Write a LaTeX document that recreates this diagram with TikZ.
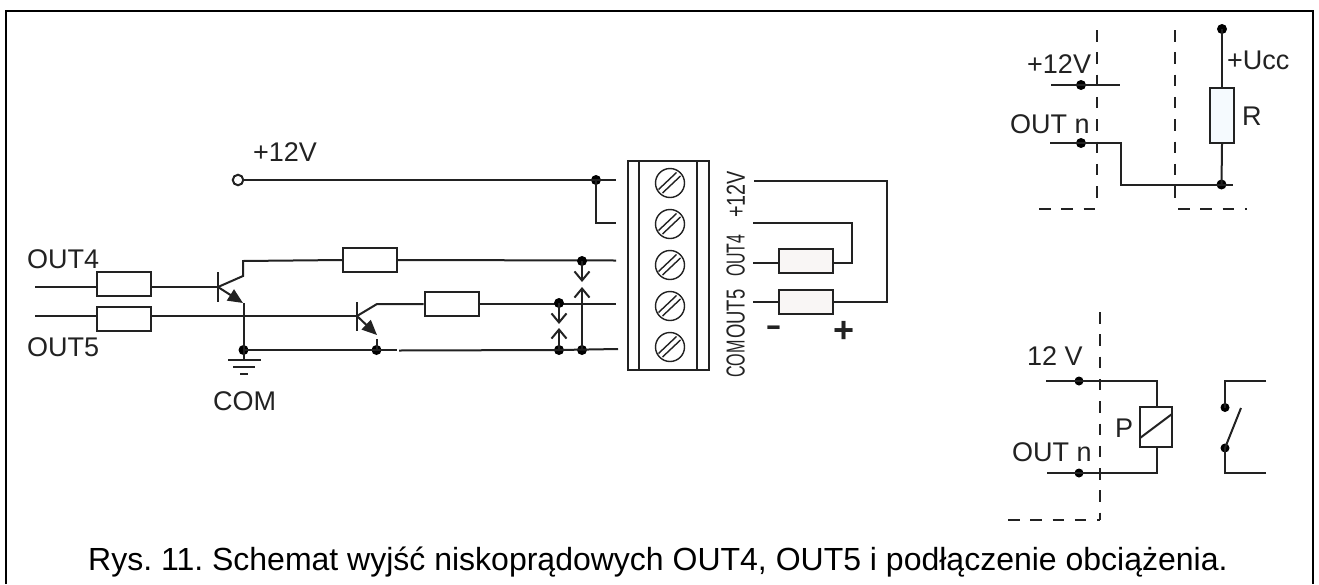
\documentclass[tikz,border=0pt]{standalone}
\usepackage{fontspec}
\setmainfont{Liberation Sans}
\usetikzlibrary{arrows.meta}
\definecolor{ink}{HTML}{222222}
\definecolor{loadfill}{HTML}{F9F6F5}
\definecolor{rfill}{HTML}{F5FAFE}
\tikzset{
  wire/.style={draw=ink,line width=2pt},
  thinwire/.style={draw=ink,line width=1.4pt},
  res/.style={draw=ink,line width=2pt,rectangle,minimum width=54pt,minimum height=24pt,inner sep=0pt,fill=white},
  loadbox/.style={res,fill=loadfill},
  dot/.style={circle,fill=black,inner sep=0pt,minimum size=10pt},
  lab/.style={anchor=base west,inner sep=0pt,text=ink,font=\fontsize{27}{27}\selectfont},
  sidelab/.style={anchor=south west,inner sep=0pt,text=ink,rotate=90},
  cut/.style={draw=ink,line width=1.8pt,dash pattern=on 11.5pt off 10.8pt},
  openarrow/.style={-{Straight Barb[length=9pt,width=15pt,line width=2pt]}},
  solidtip/.style={-{Triangle[length=15pt,width=13pt]}},
  screw/.style={circle,draw=ink,line width=1.4pt,minimum size=29pt,inner sep=0pt}
}
\newcommand{\sidetext}[2]{\scalebox{#1}[1]{\fontsize{26}{26}\selectfont #2}}
\begin{document}
\begin{tikzpicture}[x=1pt,y=-1pt]
\useasboundingbox (0,0) rectangle (1319,584);
\fill[white] (0,0) rectangle (1319,584);
% frame (open at the bottom)
\coordinate (f1) at (6,584); \coordinate (f2) at (6,11); \coordinate (f3) at (1313,11); \coordinate (f4) at (1313,584);
\draw[line width=2.2pt,draw=black] (f1) -- (f2) -- (f3) -- (f4);
% labels left
\node[lab] (l12) at (253,161) {+12V};
\node[lab] (lo4) at (27,268) {OUT4};
\node[lab] (lo5) at (27,356) {OUT5};
\node[lab] (lcom) at (213,410) {COM};
% +12V rail
\node[circle,draw=ink,line width=2pt,inner sep=0pt,minimum size=10.5pt] (in12) at (238,180) {};
\coordinate (t1) at (616,180); \coordinate (t2) at (616,223);
\node[dot] (j12) at (596,180) {};
\draw[wire] (in12.east) -- (t1);
\draw[wire] (j12.center) |- (t2);
% OUT4 transistor
\coordinate (i4) at (35,287);
\node[res] (r1) at (124,284) {};
\coordinate (b1) at (218,287);
\coordinate (b1a) at (218,272); \coordinate (b1b) at (218,302);
\coordinate (c1a) at (243,276); \coordinate (c1b) at (243,261);
\coordinate (e1) at (243,303);
\node[res] (r3) at (370,260) {};
\coordinate (t3) at (616,260.5);
\draw[wire] (i4) -- (r1.west |- i4);
\draw[wire] (r1.east |- i4) -- (b1);
\draw[wire] (b1a) -- (b1b);
\draw[wire] (b1) -- (c1a) -- (c1b) -- (r3.west);
\draw[wire] (r3.east) -- (t3);
\draw[wire,solidtip] (b1) -- (e1);
% OUT5 transistor
\coordinate (i5) at (35,316);
\node[res] (r2) at (124,319) {};
\coordinate (b2) at (357,316);
\coordinate (b2a) at (357,302); \coordinate (b2b) at (357,331);
\coordinate (c2a) at (377,304);
\coordinate (e2) at (377,335);
\node[res] (r4) at (451.5,304) {};
\coordinate (t4) at (616,304);
\draw[wire] (i5) -- (r2.west |- i5);
\draw[wire] (r2.east |- i5) -- (b2);
\draw[wire] (b2a) -- (b2b);
\draw[wire] (b2) -- (c2a) -- (r4.west);
\draw[wire] (r4.east) -- (t4);
\draw[wire,solidtip] (b2) -- (e2);
% common line and ground
\node[dot] (j1) at (243.5,350) {};
\node[dot] (j2) at (376.5,350) {};
\node[dot] (j3) at (559,350) {};
\node[dot] (j4) at (582,350) {};
\coordinate (t5) at (618,349);
\coordinate (e1s) at (243.5,303);
\coordinate (e2s) at (376.5,339);
\draw[wire] (e1s) -- (j1.center);
\draw[wire] (e2s) -- (j2.center);
\draw[wire] (j1.center) -- (397,350);
\draw[wire] (399,350.5) -- (j3.center) -- (t5);
\coordinate (g0) at (243.5,360);
\draw[wire] (j1.center) -- (g0);
\draw[wire] (228,360) -- (261,360);
\draw[wire] (233,367) -- (255,367);
\draw[wire] (240,374) -- (248,374);
% protection arrows
\node[dot] (j5) at (582,261) {};
\node[dot] (j6) at (559,303) {};
\coordinate (a1) at (582,282); \coordinate (a2) at (582,287);
\coordinate (a3) at (559,324); \coordinate (a4) at (559,328);
\draw[wire,openarrow] (j5.center) -- (a1);
\draw[wire,openarrow] (j4.center) -- (a2);
\draw[wire,openarrow] (j6.center) -- (a3);
\draw[wire,openarrow] (j3.center) -- (a4);
% terminal block
\draw[thinwire] (628,161) rectangle (709,370);
\draw[thinwire] (639,161) rectangle (697,370);
\foreach \n/\y in {a/183,b/224,c/265,d/306,e/347}{
  \node[screw] (s\n) at (670,\y) {};
  \draw[thinwire] (670,\y) ++(-11.5,6.5) -- ++(18,-17);
  \draw[thinwire] (670,\y) ++(-7.5,10) -- ++(18,-17);
}
% side labels
\node[sidelab] (sc) at (745,378) {\sidetext{0.62}{COM}};
\node[sidelab] (so5) at (745,339) {\sidetext{0.71}{OUT5}};
\node[sidelab] (so4) at (745,277) {\sidetext{0.61}{OUT4}};
\node[sidelab] (s12) at (745,218) {\sidetext{0.76}{+12V}};
% load wiring
\node[loadbox] (l2) at (805.5,261) {};
\node[loadbox] (l1) at (805.5,302) {};
\coordinate (w1) at (754,181); \coordinate (w2) at (887,181); \coordinate (w3) at (887,302);
\coordinate (w4) at (753,302);
\coordinate (w5) at (753,222.5); \coordinate (w6) at (852,222.5); \coordinate (w7) at (852,262.5);
\coordinate (w8) at (753,262.5);
\draw[wire] (w1) -- (w2) -- (w3) -- (l1.east);
\draw[wire] (l1.west) -- (w4);
\draw[wire] (w5) -- (w6) -- (w7) -- (l2.east |- w7);
\draw[wire] (l2.west |- w7) -- (w8);
\node[inner sep=0pt,text=ink,font=\fontsize{30}{30}\selectfont\bfseries] (mi) at (773.5,331) {\scalebox{1.6}[1]{-}};
\node[inner sep=0pt,text=ink,font=\fontsize{36}{36}\selectfont\bfseries] (pl) at (844,332) {+};
% pull-up detail
\draw[cut] (1097,30) -- (1097,200);
\draw[cut] (1175,30) -- (1175,200);
\draw[cut] (1039,209) -- (1097,209);
\draw[cut] (1178,209) -- (1247,209);
\node[lab] (p12) at (1027,73) {+12V};
\node[lab] (pout) at (1010,133) {OUT n};
\node[lab] (pucc) at (1227,69) {+Ucc};
\node[lab] (pr) at (1242,125) {R};
\node[dot] (d1) at (1081,85) {};
\node[dot] (d2) at (1081,143) {};
\node[dot] (d3) at (1221.5,184.5) {};
\node[dot] (d4) at (1222,29) {};
\node[res,fill=rfill,minimum width=24pt,minimum height=55pt] (rr) at (1222,115.5) {};
\coordinate (q1) at (1051,85); \coordinate (q2) at (1120,85);
\coordinate (q3) at (1050,143); \coordinate (q4) at (1120.5,143);
\coordinate (q5) at (1120.5,184.5); \coordinate (q6) at (1233,184.5);
\draw[wire] (q1) -- (q2);
\draw[wire] (q3) -- (q4) -- (q5) -- (q6);
\draw[wire] (d4.center) -- (rr.north);
\draw[wire] (rr.south) -- (d3.center);
% relay detail
\draw[cut] (1100,312) -- (1100,520);
\draw[cut] (1008,520) -- (1100,520);
\node[lab] (r12) at (1027,365) {12 V};
\node[lab] (rout) at (1012,461) {OUT n};
\node[lab] (rp) at (1115,437) {P};
\node[dot,minimum size=9pt] (d5) at (1079,381) {};
\node[dot,minimum size=9pt] (d6) at (1079,473) {};
\node[draw=ink,line width=2pt,rectangle,inner sep=0pt,minimum width=32pt,minimum height=40pt,fill=white] (coil) at (1156,427) {};
\coordinate (k1) at (1046,381); \coordinate (k2) at (1157,381);
\coordinate (k3) at (1047,473); \coordinate (k4) at (1157,473);
\draw[wire] (k1) -- (k2) -- (coil.north -| k2);
\draw[wire] (k3) -- (k4) -- (coil.south -| k4);
\draw[wire] (1140,438) -- (1172,414);
% switch
\node[dot,minimum size=9pt] (d7) at (1225,407.5) {};
\node[dot,minimum size=9pt] (d8) at (1225,448) {};
\coordinate (m1) at (1266,381); \coordinate (m2) at (1225,381);
\coordinate (m3) at (1266,473); \coordinate (m4) at (1225,473);
\coordinate (m5) at (1241,408);
\draw[wire] (m1) -- (m2) -- (d7.center);
\draw[wire] (m3) -- (m4) -- (d8.center);
\draw[wire] (d8.center) -- (m5);
% caption
\node[anchor=base west,inner sep=0pt,text=black,font=\fontsize{32}{32}\selectfont] (cap) at (88,570.5) {\frenchspacing Rys. 11. Schemat wyjść niskoprądowych OUT4, OUT5 i podłączenie obciążenia.};
\end{tikzpicture}
\end{document}
